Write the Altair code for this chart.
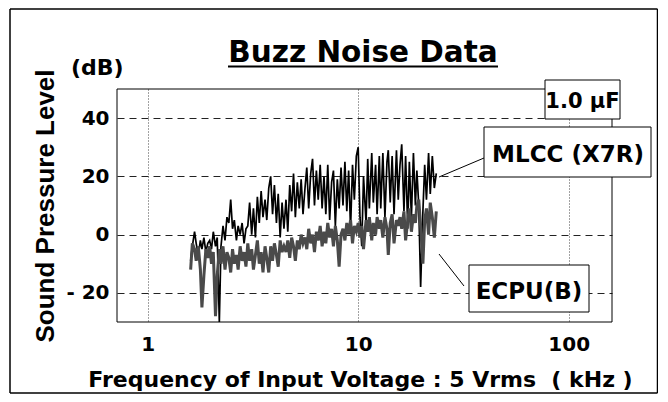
import altair as alt
import pandas as pd

# ---- data ----
freq_khz = [
    1.60, 1.63, 1.67, 1.70, 1.74, 1.78, 1.81, 1.85, 1.89, 1.93,
    1.97, 2.01, 2.05, 2.10, 2.14, 2.19, 2.23, 2.28, 2.33, 2.38,
    2.43, 2.48, 2.53, 2.58, 2.64, 2.69, 2.75, 2.81, 2.87, 2.93,
    2.99, 3.05, 3.12, 3.18, 3.25, 3.32, 3.39, 3.46, 3.53, 3.61,
    3.68, 3.76, 3.84, 3.92, 4.00, 4.09, 4.17, 4.26, 4.35, 4.44,
    4.54, 4.63, 4.73, 4.83, 4.93, 5.03, 5.14, 5.25, 5.36, 5.47,
    5.59, 5.70, 5.82, 5.95, 6.07, 6.20, 6.33, 6.46, 6.60, 6.74,
    6.88, 7.02, 7.17, 7.32, 7.48, 7.63, 7.79, 7.96, 8.12, 8.29,
    8.47, 8.65, 8.83, 9.01, 9.20, 9.40, 9.59, 9.80, 10.0, 10.2,
    10.4, 10.6, 10.9, 11.1, 11.3, 11.6, 11.8, 12.1, 12.3, 12.6,
    12.8, 13.1, 13.4, 13.7, 13.9, 14.2, 14.5, 14.8, 15.2, 15.5,
    15.8, 16.1, 16.5, 16.8, 17.2, 17.5, 17.9, 18.3, 18.7, 19.0,
    19.4, 19.8, 20.3, 20.7, 21.1, 21.6, 22.0, 22.5, 23.0, 23.5,
]
mlcc_db = [
    -9, -4, 1, -3, -7, -2, -5, -1, -6, -3,
    -2, -5, 1, -4, -1, -30, -4, 3, -2, 6,
    4, 12, 2, 5, -2, 3, 0, 4, -3, 2,
    3, 11, 0, 9, -1, 13, 4, 15, 6, 12,
    5, 16, 20, 7, 17, 4, 14, -1, 11, 2,
    12, 1, 17, 8, 21, 6, 18, 9, 19, 7,
    16, 23, 9, 21, 26, 10, 22, 12, 24, 9,
    20, 7, 24, 5, 18, 22, 3, 19, 9, 23,
    10, 25, 8, 22, 2, 24, 12, 27, 30, 6,
    -4, 20, 4, 26, 9, 28, 11, 24, 7, 27,
    9, 28, 6, 25, 29, 11, 27, 7, 29, 12,
    24, 31, 8, 27, 2, 25, 6, 28, 10, 22,
    10, -18, 8, 24, 12, 28, 14, 27, 16, 21,
]
ecpu_db = [
    -12, -3, -5, -9, -4, -12, -25, -14, -5, -8,
    -4, -10, -6, -28, -14, -5, -10, -4, -12, -6,
    -8, -13, -5, -10, -7, -12, -4, -9, -6, -11,
    -3, -9, -5, -12, -7, -2, -10, -6, -13, -4,
    -8, -13, -4, -9, -3, -7, -11, -2, -6, -4,
    -6, -2, -8, -1, -4, -9, -2, -5, 0, -3,
    -1, -5, 2, -3, 0, -6, 1, -2, 3, -4,
    1, -3, 4, -1, 2, -4, 3, -2, -11, 0,
    2, -2, 4, 0, 5, -3, 3, 1, 4, -1,
    3, -5, 5, 1, 6, -2, 4, 0, 6, 2,
    5, -1, 6, 2, -7, 4, 7, -3, 5, 3,
    6, 2, 8, -2, 5, 9, 1, 7, 4, 10,
    12, 3, -10, 5, 9, 0, 11, 6, -1, 8,
]
x_ticks = [1, 10, 100]
y_grid = [-20, -10, 0, 10, 20, 30, 40]

title_text = "Buzz Noise Data"
x_title = "Frequency of Input Voltage : 5 Vrms\u00a0 ( kHz )"
y_title = "Sound Pressure Level"
unit_text = "(dB)"
cap_text = "1.0 \u00b5F"
mlcc_name = "MLCC (X7R)"
ecpu_name = "ECPU(B)"

# ---- layout ----
W, H = 495, 233
FONT = "DejaVu Sans"
FONT2 = "Liberation Sans"

df_m = pd.DataFrame({"f": freq_khz, "db": mlcc_db})
df_e = pd.DataFrame({"f": freq_khz, "db": ecpu_db})
dummy = pd.DataFrame({"k": [0]})

xs = alt.Scale(type="log", domain=[0.715, 160.6], nice=False)
ys = alt.Scale(domain=[-30, 50], nice=False)

x_axis = alt.Axis(
    values=x_ticks, format="d", title=x_title,
    grid=True, gridDash=[1, 2], gridColor="#444444", gridWidth=1,
    ticks=False, domain=False,
    labelFont=FONT, labelFontSize=20, labelFontWeight="bold", labelColor="black",
    labelPadding=28, labelBaseline="alphabetic", labelFlush=False, labelOverlap=False,
    titleFont=FONT, titleFontSize=22, titleFontWeight="bold", titleColor="black",
    titleX=243, titleY=64, titleBaseline="alphabetic", titleAlign="center",
)
y_axis = alt.Axis(
    values=y_grid, title=y_title,
    labelExpr="datum.value % 20 != 0 ? '' : (datum.value < 0 ? '- ' + abs(datum.value) : '' + datum.value)",
    grid=True, gridDash=[7, 5], gridColor="#222222", gridWidth=1,
    ticks=False, domain=False,
    labelFont=FONT, labelFontSize=20, labelFontWeight="bold", labelColor="black",
    labelPadding=8, labelOverlap=False,
    titleFont=FONT2, titleFontSize=26, titleFontWeight="bold", titleColor="black",
    titleX=-63.5, titleY=116.5, titleBaseline="alphabetic", titleAlign="center", titleAngle=-90,
)

mlcc_line = alt.Chart(df_m).mark_line(color="black", strokeWidth=1.7, clip=True).encode(
    x=alt.X("f:Q", scale=xs, axis=x_axis),
    y=alt.Y("db:Q", scale=ys, axis=y_axis),
)
ecpu_line = alt.Chart(df_e).mark_line(color="#4a4a4a", strokeWidth=3, clip=True).encode(
    x=alt.X("f:Q", scale=xs),
    y=alt.Y("db:Q", scale=ys),
)


def txt(s, x, y, size, align="center", font=FONT):
    return alt.Chart(dummy).mark_text(
        text=s, font=font, fontSize=size, fontWeight="bold", color="black",
        align=align, baseline="alphabetic",
    ).encode(x=alt.value(x), y=alt.value(y))


def rule(x1, y1, x2, y2, w=1.0):
    return alt.Chart(dummy).mark_rule(color="black", strokeWidth=w).encode(
        x=alt.value(x1), y=alt.value(y1), x2=alt.value(x2), y2=alt.value(y2)
    )


def box(x1, y1, x2, y2, filled=True):
    if filled:
        m = alt.Chart(dummy).mark_rect(fill="white", stroke="black", strokeWidth=1)
    else:
        m = alt.Chart(dummy).mark_rect(fill="white", fillOpacity=0, stroke="black", strokeWidth=1)
    return m.encode(x=alt.value(x1), x2=alt.value(x2), y=alt.value(y1), y2=alt.value(y2))


layers = [
    mlcc_line,
    ecpu_line,
    box(0, 0, W, H, filled=False),
    # outer figure border
    rule(-107, -80, 540.5, -80, 1.5),
    rule(-107, -80, -107, 304, 1.5),
    rule(540.5, -80, 540.5, 304, 1.5),
    rule(-107, 304, 540.5, 304, 1.5),
    # title + underline
    txt(title_text, 246, -27, 29.5),
    rule(111, -22.5, 381, -22.5, 2),
    txt(unit_text, -46, -14, 22, align="left"),
    # annotations
    rule(322, 88, 367, 69),
    rule(322, 165, 347, 197),
    box(428, -9, 503, 30),
    txt(cap_text, 465.5, 18.5, 21),
    box(367, 38, 534, 88),
    txt(mlcc_name, 451, 72.5, 23),
    box(352, 176, 472, 223),
    txt(ecpu_name, 412, 210, 23),
]

chart = alt.layer(*layers).properties(
    width=W, height=H,
    autosize=alt.AutoSizeParams(type="none"),
    padding={"left": 109, "top": 81, "right": 46, "bottom": 72},
    background="white",
).configure_view(strokeWidth=0)

chart.save("out.html", embed_options={"renderer": "svg", "actions": False})
